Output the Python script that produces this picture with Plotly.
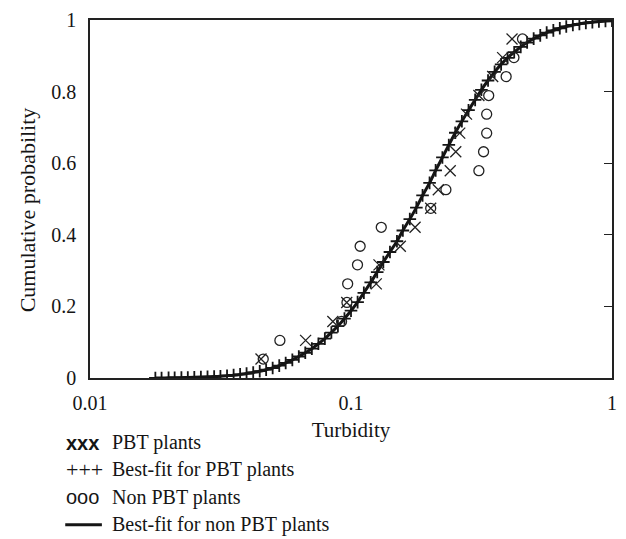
import plotly.graph_objects as go

# ---- data ----
pbt_x = [0.0452, 0.0670, 0.0852, 0.0963, 0.125, 0.128, 0.1545, 0.176, 0.202,
         0.216, 0.240, 0.252, 0.261, 0.277, 0.309, 0.349, 0.381, 0.414]
pbt_y = [0.053, 0.105, 0.158, 0.211, 0.263, 0.316, 0.368, 0.421, 0.474,
         0.526, 0.579, 0.632, 0.684, 0.737, 0.789, 0.842, 0.895, 0.947]

non_x = [0.0461, 0.0534, 0.0920, 0.0965, 0.0971, 0.1059, 0.1084, 0.1306, 0.202,
         0.231, 0.309, 0.322, 0.331, 0.331, 0.337, 0.393, 0.421, 0.454]
non_y = [0.053, 0.105, 0.158, 0.211, 0.263, 0.316, 0.368, 0.421, 0.474,
         0.526, 0.579, 0.632, 0.684, 0.737, 0.789, 0.842, 0.895, 0.947]

fit_x = [0.0178, 0.0188, 0.0200, 0.0211, 0.0224, 0.0237, 0.0251, 0.0266, 0.0282, 0.0299,
         0.0316, 0.0335, 0.0355, 0.0376, 0.0398, 0.0422, 0.0447, 0.0473, 0.0501,
         0.0531, 0.0562, 0.0596, 0.0631, 0.0668, 0.0708, 0.0750, 0.0794, 0.0841, 0.0891, 0.0944,
         0.100, 0.106, 0.112, 0.119, 0.126, 0.133, 0.141, 0.150, 0.158, 0.168, 0.178, 0.188,
         0.200, 0.211, 0.224, 0.237, 0.251, 0.266, 0.282, 0.299, 0.316, 0.335, 0.355, 0.376,
         0.398, 0.422, 0.447, 0.473, 0.501, 0.531, 0.562, 0.596, 0.631, 0.668, 0.708, 0.750,
         0.794, 0.841, 0.891, 0.944, 1.000]
fit_pbt_y = [0.000, 0.0002, 0.0005, 0.0007, 0.001, 0.0015, 0.002, 0.0026, 0.0032, 0.004,
             0.005, 0.0064, 0.008, 0.010, 0.0125, 0.0155, 0.019, 0.0232, 0.028,
             0.0345, 0.042, 0.0505, 0.060, 0.0705, 0.082, 0.0955, 0.110, 0.127, 0.145, 0.166,
             0.188, 0.212, 0.238, 0.267, 0.296, 0.324, 0.352, 0.382, 0.412, 0.444, 0.476, 0.510,
             0.545, 0.580, 0.616, 0.651, 0.685, 0.717, 0.748, 0.777, 0.805, 0.831, 0.855, 0.876,
             0.894, 0.910, 0.925, 0.937, 0.948, 0.957, 0.965, 0.971, 0.977, 0.982, 0.986, 0.989,
             0.992, 0.994, 0.996, 0.997, 0.998]
fit_non_y = list(fit_pbt_y)

x_tick_vals = [0.01, 0.1, 1]
x_tick_text = ["0.01", "0.1", "1"]
y_tick_vals = [0, 0.2, 0.4, 0.6, 0.8, 1]
y_tick_text = ["0", "0.2", "0.4", "0.6", "0.8", "1"]

x_title = "Turbidity"
y_title = "Cumulative probability"
series_names = ["PBT plants", "Best-fit for PBT plants", "Non PBT plants",
                "Best-fit for non PBT plants"]
legend_glyphs = ["xxx", "+++", "ooo", None]

# ---- layout geometry (pixels) ----
W, H = 626, 539
ML, MR, MT, MB = 90, 9, 12, 161
PW, PH = W - ML - MR, H - MT - MB


def px_to_paper(px, py):
    return (px - ML) / PW, (H - MB - py) / PH


SERIF = "Liberation Serif"
SANS = "Liberation Sans"
INK = "#151515"

fig = go.Figure()
fig.add_trace(go.Scatter(x=fit_x, y=fit_non_y, mode="lines", name=series_names[3],
                         line=dict(color=INK, width=3, shape="spline"),
                         showlegend=False))
fig.add_trace(go.Scatter(x=fit_x, y=fit_pbt_y, mode="markers", name=series_names[1],
                         marker=dict(symbol="cross-thin-open", size=9, color=INK,
                                     line=dict(color=INK, width=1.8)),
                         showlegend=False))
fig.add_trace(go.Scatter(x=pbt_x, y=pbt_y, mode="markers", name=series_names[0],
                         marker=dict(symbol="x-thin-open", size=11, color="#222",
                                     line=dict(color="#222", width=1.3)),
                         showlegend=False))
fig.add_trace(go.Scatter(x=non_x, y=non_y, mode="markers", name=series_names[2],
                         marker=dict(symbol="circle-open", size=10, color="#222",
                                     line=dict(color="#222", width=1.3)),
                         showlegend=False))
# helper trace for the right-hand tick marks
fig.add_trace(go.Scatter(x=[], y=[], yaxis="y2", showlegend=False, hoverinfo="skip"))

annotations = []
shapes = []
row_y = [444, 472, 500, 528]
glyph_fonts = {"xxx": (SANS, 20), "+++": (SERIF, 22), "ooo": (SANS, 20)}
for i, (glyph, name) in enumerate(zip(legend_glyphs, series_names)):
    gx, gy = px_to_paper(64, row_y[i])
    if glyph is not None:
        fam, sz = glyph_fonts[glyph]
        annotations.append(dict(
            x=gx, y=gy, xref="paper", yref="paper", xanchor="left", yanchor="middle",
            text=("<b>%s</b>" % glyph) if glyph == "xxx" else glyph, showarrow=False,
            font=dict(family=fam, size=sz, color=INK)))
    else:
        x0, yy = px_to_paper(65, row_y[i])
        x1, _ = px_to_paper(102, row_y[i])
        shapes.append(dict(type="line", xref="paper", yref="paper", x0=x0, x1=x1,
                           y0=yy, y1=yy, line=dict(color=INK, width=3)))
    tx, ty = px_to_paper(110, row_y[i])
    annotations.append(dict(
        x=tx, y=ty, xref="paper", yref="paper", xanchor="left", yanchor="middle",
        text=name, showarrow=False, font=dict(family=SERIF, size=20, color=INK)))

# y-axis title (placed slightly below the plot middle, as in the reference)
yt_x, yt_y = px_to_paper(27, 206)
annotations.append(dict(x=yt_x, y=yt_y, xref="paper", yref="paper", xanchor="center",
                        yanchor="middle", textangle=-90, text=y_title, showarrow=False,
                        font=dict(family=SERIF, size=22, color=INK)))

fig.update_layout(
    width=W, height=H,
    margin=dict(l=ML, r=MR, t=MT, b=MB),
    paper_bgcolor="white", plot_bgcolor="white",
    font=dict(family=SERIF, size=20, color=INK),
    xaxis=dict(type="log", range=[-2, 0], tickvals=x_tick_vals, ticktext=x_tick_text,
               showline=True, mirror=True, linecolor="#222", linewidth=1.6,
               ticks="", showgrid=False, zeroline=False, ticklabelstandoff=6,
               tickfont=dict(family=SERIF, size=20, color=INK),
               title=dict(text=x_title, standoff=10,
                          font=dict(family=SERIF, size=21, color=INK))),
    yaxis=dict(range=[0, 1], tickvals=y_tick_vals, ticktext=y_tick_text,
               showline=True, mirror=True, linecolor="#222", linewidth=1.6,
               ticks="", showgrid=False, zeroline=False, ticklabelstandoff=8,
               tickfont=dict(family=SERIF, size=20, color=INK)),
    yaxis2=dict(range=[0, 1], overlaying="y", side="right", tickvals=y_tick_vals,
                ticks="inside", ticklen=8, tickwidth=1.4, tickcolor="#222",
                showticklabels=False, showgrid=False, zeroline=False, showline=False),
    annotations=annotations,
    shapes=shapes,
    showlegend=False,
)

fig.write_html(
    "out.html",
    config={"displayModeBar": False},
    post_script="document.body.style.margin='0';document.body.style.overflow='hidden';",
)
